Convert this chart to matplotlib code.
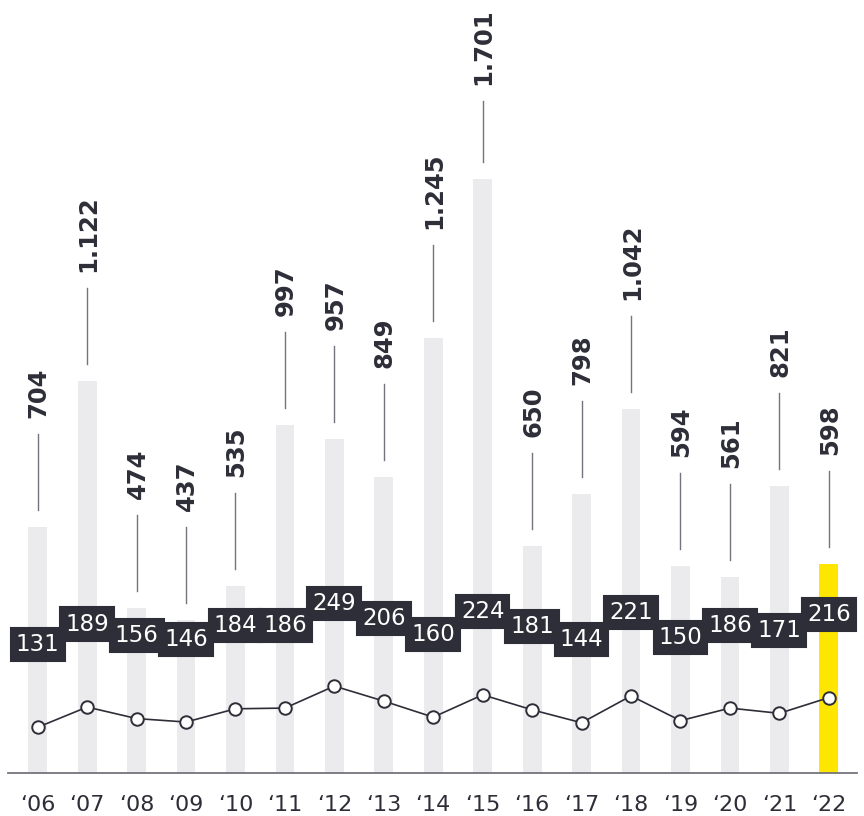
import numpy as np
import matplotlib.pyplot as plt
from matplotlib.transforms import offset_copy

# Données
annees = ["‘06", "‘07", "‘08", "‘09", "‘10", "‘11", "‘12", "‘13", "‘14",
          "‘15", "‘16", "‘17", "‘18", "‘19", "‘20", "‘21", "‘22"]
barres = [704, 1122, 474, 437, 535, 997, 957, 849, 1245,
          1701, 650, 798, 1042, 594, 561, 821, 598]
ligne = [131, 189, 156, 146, 184, 186, 249, 206, 160,
         224, 181, 144, 221, 150, 186, 171, 216]

sombre = '#2e2e38'
gris_barre = '#ebebee'
jaune = '#ffe600'
gris_trait = '#74747e'

W, H = 864, 816
fig = plt.figure(figsize=(W / 100, H / 100), dpi=100)
ax = fig.add_axes([8 / W, 43 / H, 849 / W, 773 / H])

x = np.arange(len(annees))
couleurs = [gris_barre] * (len(x) - 1) + [jaune]
ax.bar(x, barres, width=0.38, color=couleurs, zorder=1)

ax.plot(x, ligne, color=sombre, lw=1.2, marker='o', markersize=9,
        markerfacecolor='white', markeredgecolor=sombre, markeredgewidth=1.4, zorder=3)

ax.set_xlim(-0.6, 16.57)
ax.set_ylim(0, 773 / 0.349)
ax.set_xticks(x)
ax.set_xticklabels(annees, fontsize=16, color=sombre)
ax.tick_params(axis='x', length=0, pad=16)
ax.set_yticks([])
for s in ['top', 'left', 'right']:
    ax.spines[s].set_visible(False)
ax.spines['bottom'].set_color(gris_trait)
ax.spines['bottom'].set_linewidth(1.3)

# Étiquettes des barres avec trait de rappel
for xi, v in zip(x, barres):
    txt = f"{v:,}".replace(',', '.')
    haut_px = H - ax.transData.transform((xi, v))[1]
    long_txt = 15.0 * len(txt)
    total = min(109, haut_px - 10 - long_txt)
    p1 = offset_copy(ax.transData, fig, x=0, y=17, units='dots').transform((xi, v))
    p2 = offset_copy(ax.transData, fig, x=0, y=total - 16, units='dots').transform((xi, v))
    fig.add_artist(plt.Line2D([p1[0] / W, p2[0] / W], [p1[1] / H, p2[1] / H],
                              color=gris_trait, lw=1.0, transform=fig.transFigure))
    ax.annotate(txt, xy=(xi, v), xytext=(1, total), textcoords='offset pixels',
                rotation=90, ha='center', va='bottom', fontsize=17.5,
                fontweight='bold', color=sombre)

# Étiquettes de la ligne dans des boîtes sombres
for xi, v in zip(x, ligne):
    ax.annotate(str(v), xy=(xi, v), xytext=(0, 83), textcoords='offset pixels',
                ha='center', va='center', fontsize=16.5, color='white', zorder=4,
                bbox=dict(boxstyle='square,pad=0.22', fc=sombre, ec=sombre, lw=1.5))

plt.savefig('out.png', dpi=100)
